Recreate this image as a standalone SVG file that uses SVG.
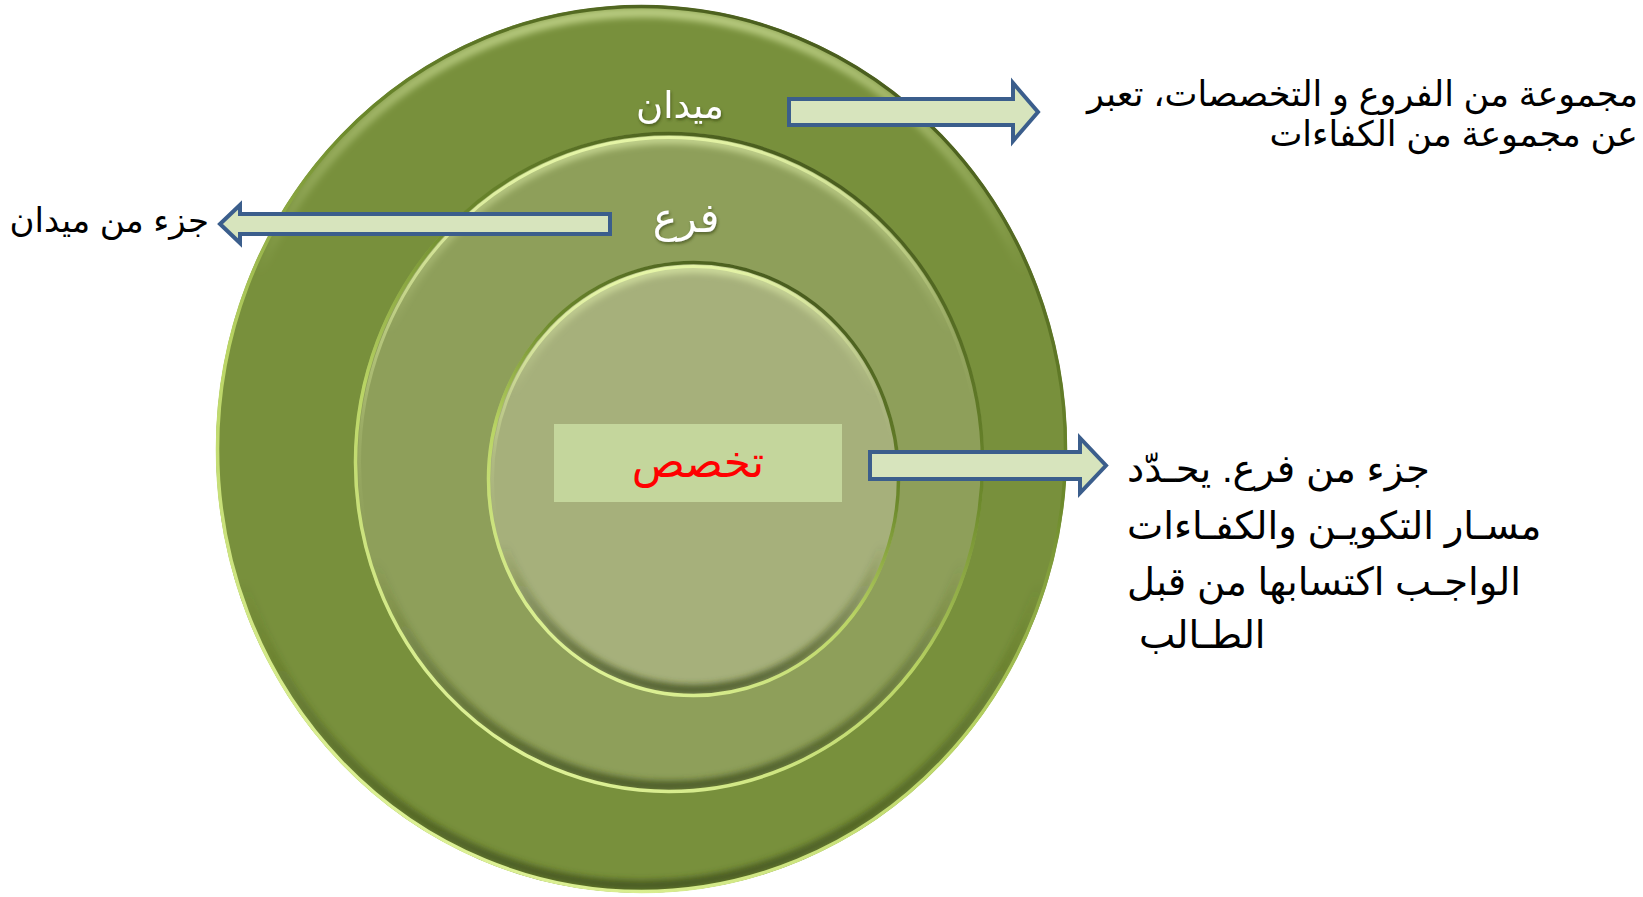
<svg xmlns="http://www.w3.org/2000/svg" width="1643" height="897" viewBox="0 0 1643 897">
<style>
.ar{font-family:"Liberation Sans","DejaVu Sans",sans-serif;}
.blk{fill:#000;}
.wht{fill:#fff;}
.arrow{fill:#d7e4bd;stroke:#3b5e8c;stroke-width:4;stroke-linejoin:miter;}
</style>
<defs>
<linearGradient id="rim" x1="0.75" y1="0" x2="0.25" y2="1">
<stop offset="0" stop-color="#44561c"/>
<stop offset="0.35" stop-color="#6d8a2c"/>
<stop offset="0.6" stop-color="#b9d464"/>
<stop offset="1" stop-color="#e2f59c"/>
</linearGradient>
<linearGradient id="band" x1="0.5" y1="0" x2="0.5" y2="1">
<stop offset="0" stop-color="#e6f5b0" stop-opacity="0.6"/>
<stop offset="0.3" stop-color="#e6f5b0" stop-opacity="0"/>
<stop offset="0.65" stop-color="#3c4c18" stop-opacity="0"/>
<stop offset="1" stop-color="#3c4c18" stop-opacity="0.8"/>
</linearGradient>
<linearGradient id="hi" x1="0.4" y1="0" x2="0.6" y2="1">
<stop offset="0" stop-color="#e8f8a8" stop-opacity="0.95"/>
<stop offset="0.35" stop-color="#e8f8a8" stop-opacity="0.15"/>
<stop offset="0.5" stop-color="#e8f8a8" stop-opacity="0"/>
</linearGradient>
<filter id="blur" x="-5%" y="-5%" width="110%" height="110%"><feGaussianBlur stdDeviation="3"/></filter>
<filter id="tshadow" x="-20%" y="-30%" width="140%" height="160%">
<feGaussianBlur in="SourceAlpha" stdDeviation="1.5"/>
<feOffset dx="1" dy="1.5" result="b"/>
<feFlood flood-color="#2d3a10" flood-opacity="0.6"/>
<feComposite in2="b" operator="in"/>
<feMerge><feMergeNode/><feMergeNode in="SourceGraphic"/></feMerge>
</filter>
<clipPath id="cOuter"><ellipse cx="641.5" cy="449" rx="425.5" ry="444"/></clipPath>
<clipPath id="cMid"><ellipse cx="669" cy="462.5" rx="315" ry="330.5"/></clipPath>
<clipPath id="cIn"><ellipse cx="693.5" cy="479" rx="206.5" ry="218"/></clipPath>
</defs>
<rect width="1643" height="897" fill="#fff"/>

<g id="node-maydan">
<ellipse cx="641.5" cy="449" rx="425.5" ry="444" fill="#78903c"/>
<ellipse cx="641.5" cy="449" rx="418" ry="436.5" fill="none" stroke="url(#band)" stroke-width="10" filter="url(#blur)" clip-path="url(#cOuter)"/>
<ellipse cx="641.5" cy="449" rx="424" ry="442.5" fill="none" stroke="url(#rim)" stroke-width="3.5"/>
<text class="ar wht" x="680" y="118" font-size="37" text-anchor="middle" filter="url(#tshadow)">ميدان</text>
</g>

<g id="node-far">
<ellipse cx="669" cy="462.5" rx="315" ry="330.5" fill="#8e9f5a"/>
<ellipse cx="669" cy="462.5" rx="308" ry="323.5" fill="none" stroke="url(#band)" stroke-width="10" filter="url(#blur)" clip-path="url(#cMid)"/>
<ellipse cx="669" cy="462.5" rx="309.5" ry="325" fill="none" stroke="url(#hi)" stroke-width="3"/>
<ellipse cx="669" cy="462.5" rx="313.5" ry="329" fill="none" stroke="url(#rim)" stroke-width="3.5"/>
<text class="ar wht" x="686" y="232" font-size="41" text-anchor="middle" filter="url(#tshadow)">فرع</text>
</g>

<g id="node-takhassus">
<ellipse cx="693.5" cy="479" rx="206.5" ry="218" fill="#a6b07b"/>
<ellipse cx="693.5" cy="479" rx="199.5" ry="211" fill="none" stroke="url(#band)" stroke-width="10" filter="url(#blur)" clip-path="url(#cIn)"/>
<ellipse cx="693.5" cy="479" rx="201" ry="212.5" fill="none" stroke="url(#hi)" stroke-width="3"/>
<ellipse cx="693.5" cy="479" rx="205" ry="216.5" fill="none" stroke="url(#rim)" stroke-width="3.5"/>
<rect x="554" y="424" width="288" height="78" fill="#c4d69c"/>
<text class="ar" x="698" y="477" font-size="44" text-anchor="middle" fill="#ff0000">تخصص</text>
</g>

<g id="connectors">
<polygon class="arrow" points="789,99 1013,99 1013,83 1038,112 1013,141 1013,125 789,125"/>
<polygon class="arrow" points="610,214 240,214 240,205 220,224 240,243 240,234 610,234"/>
<polygon class="arrow" points="870,452 1080,452 1080,438 1106,465.5 1080,493 1080,479 870,479"/>
</g>

<g id="label-maydan-desc">
<text class="ar blk" x="1638" y="106" font-size="35" text-anchor="end">مجموعة من الفروع و التخصصات، تعبر</text>
<text class="ar blk" x="1638" y="146" font-size="35" text-anchor="end">عن مجموعة من الكفاءات</text>
</g>

<g id="label-far-desc">
<text class="ar blk" x="209" y="232" font-size="34" text-anchor="end">جزء من ميدان</text>
</g>

<g id="label-takhassus-desc">
<text class="ar blk" x="1127" y="482" font-size="38.5">جزء من  فرع. يحـدّد</text>
<text class="ar blk" x="1127" y="539" font-size="38.5">مسـار التكويـن والكفـاءات</text>
<text class="ar blk" x="1127" y="595" font-size="38.5">الواجـب اكتسابها من قبل</text>
<text class="ar blk" x="1139" y="648" font-size="38.5"> الطـالب</text>
</g>
</svg>
